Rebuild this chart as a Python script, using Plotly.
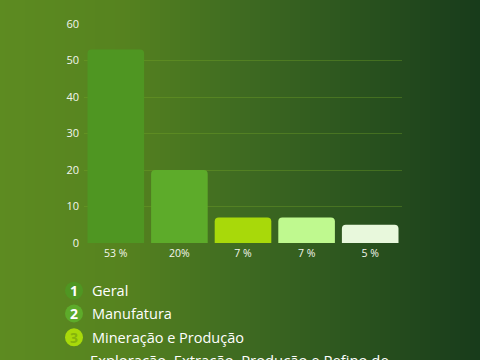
import plotly.graph_objects as go

# ---- data ----
categories = ["Geral", "Manufatura", "Mineração e Produção", "Exploração, Extração, Produção e Refino de", "Outros"]
values = [53, 20, 7, 7, 5]
bar_labels = ["53 %", "20%", "7 %", "7 %", "5 %"]
bar_colors = ["#4f9622", "#5dab2a", "#a8d90a", "#bff98f", "#e8f8dc"]
y_ticks = [0, 10, 20, 30, 40, 50, 60]
legend_items = ["Geral", "Manufatura", "Mineração e Produção"]
legend_colors = ["#4f9622", "#5dab2a", "#a8d90a"]
legend_num_colors = ["#ffffff", "#ffffff", "#86b40c"]
extra_legend_text = "Exploração, Extração, Produção e Refino de"

W, H = 480, 360
FONT = "Open Sans"

def hex2rgb(h):
    h = h.lstrip("#")
    return tuple(int(h[i:i + 2], 16) for i in (0, 2, 4))

def lerp(c1, c2, t):
    return tuple(round(a + (b - a) * t) for a, b in zip(c1, c2))

stops = [(0.0, "#5d8b21"), (0.25, "#56831f"), (0.5, "#3f6b21"), (0.75, "#2a531e"), (1.0, "#183b1b")]

def grad(t):
    for (t0, c0), (t1, c1) in zip(stops[:-1], stops[1:]):
        if t0 <= t <= t1:
            return lerp(hex2rgb(c0), hex2rgb(c1), (t - t0) / (t1 - t0))
    return hex2rgb(stops[-1][1])

shapes = []
N = 96
for i in range(N):
    r, g, b = grad((i + 0.5) / N)
    shapes.append(dict(type="rect", xref="paper", yref="paper", x0=i / N, x1=(i + 1) / N + 0.002,
                       y0=-0.01, y1=1.01, fillcolor=f"rgb({r},{g},{b})", line=dict(width=0), layer="below"))

fig = go.Figure()
fig.add_trace(go.Bar(
    x=list(range(len(values))), y=values,
    marker=dict(color=bar_colors, line=dict(width=0), cornerradius=4),
    width=0.89, hoverinfo="skip",
))

annotations = []
row_y = [290.7, 313.5, 337.3]
cx, rad = 74, 9
for i, (lab, col, ncol) in enumerate(zip(legend_items, legend_colors, legend_num_colors)):
    yc = row_y[i]
    shapes.append(dict(type="circle", xref="paper", yref="paper",
                       x0=(cx - rad) / W, x1=(cx + rad) / W,
                       y0=1 - (yc + rad) / H, y1=1 - (yc - rad) / H,
                       fillcolor=col, line=dict(width=0), layer="above"))
    annotations.append(dict(text=f"<b>{i + 1}</b>", x=cx / W, y=1 - yc / H, xref="paper", yref="paper",
                            showarrow=False, xanchor="center", yanchor="middle",
                            font=dict(family=FONT, size=14, color=ncol)))
    annotations.append(dict(text=lab, x=90 / W, y=1 - yc / H, xref="paper", yref="paper",
                            showarrow=False, xanchor="left", yanchor="middle",
                            font=dict(family=FONT, size=14.5, color="#ffffff")))
annotations.append(dict(text=extra_legend_text, x=88 / W, y=1 - 348 / H, xref="paper", yref="paper",
                        showarrow=False, xanchor="left", yanchor="top",
                        font=dict(family=FONT, size=14.8, color="#ffffff")))

fig.update_layout(
    width=W, height=H,
    margin=dict(l=0, r=0, t=0, b=0, autoexpand=False),
    paper_bgcolor="#3f6b21", plot_bgcolor="rgba(0,0,0,0)",
    showlegend=False, bargap=0.11,
    shapes=shapes, annotations=annotations,
    xaxis=dict(domain=[84 / W, 402 / W], range=[-0.5, 4.5], tickvals=list(range(len(values))),
               ticktext=bar_labels, showgrid=False, zeroline=False, showline=False, ticks="",
               automargin=False, ticklabelstandoff=2,
               tickfont=dict(family=FONT, size=10.5, color="#f2f6ec")),
    yaxis=dict(domain=[1 - 243 / H, 1 - 24 / H], range=[0, 60], tickvals=y_ticks,
               showgrid=True, gridcolor="rgba(120,170,40,0.35)", gridwidth=1,
               zeroline=False, showline=False, ticks="", ticklabelstandoff=4, automargin=False,
               tickfont=dict(family=FONT, size=11, color="#f2f6ec")),
)

fig.write_html("out.html")
